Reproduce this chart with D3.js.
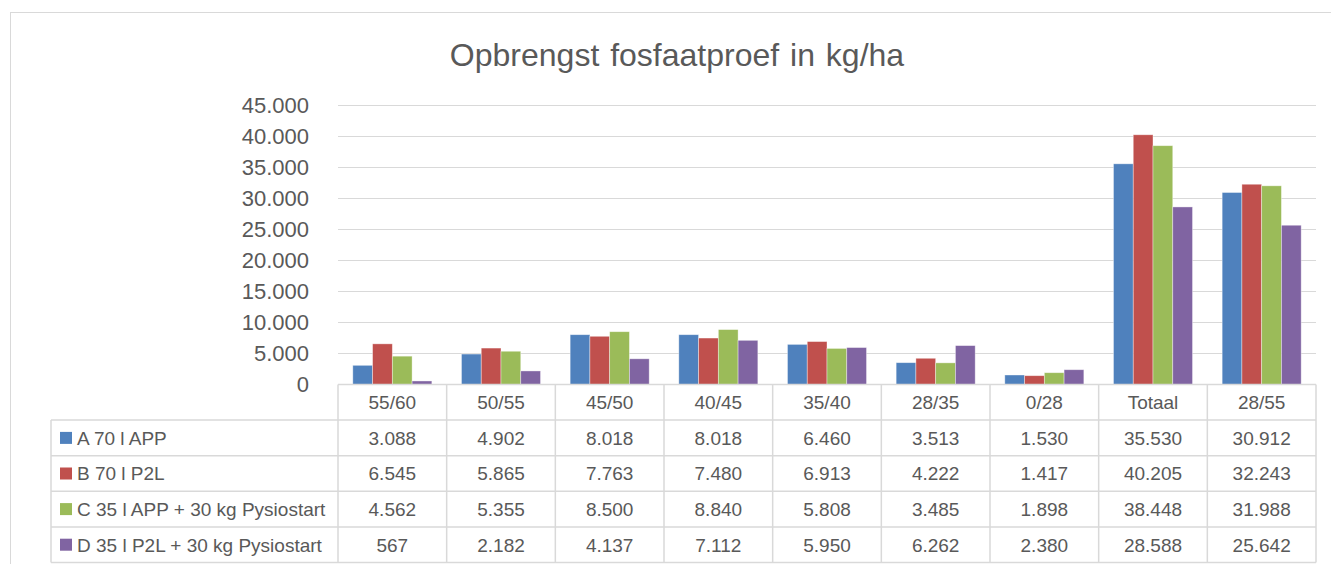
<!DOCTYPE html>
<html>
<head>
<meta charset="utf-8">
<script src="https://cdn.jsdelivr.net/npm/d3@7"></script>
<style>
  body { margin: 0; background: #fff; }
  svg text { font-family: "Liberation Sans", Arial, sans-serif; fill: #595959; }
</style>
</head>
<body>
<div id="app"></div>
<script>
// categories and series
const categories = ["55/60", "50/55", "45/50", "40/45", "35/40", "28/35", "0/28", "Totaal", "28/55"];
const seriesNames = ["A 70 l APP", "B 70 l P2L", "C 35 l APP + 30 kg Pysiostart", "D 35 l P2L + 30 kg Pysiostart"];
const seriesA = [3088, 4902, 8018, 8018, 6460, 3513, 1530, 35530, 30912];
const seriesB = [6545, 5865, 7763, 7480, 6913, 4222, 1417, 40205, 32243];
const seriesC = [4562, 5355, 8500, 8840, 5808, 3485, 1898, 38448, 31988];
const seriesD = [567, 2182, 4137, 7112, 5950, 6262, 2380, 28588, 25642];
const yTicks = [0, 5000, 10000, 15000, 20000, 25000, 30000, 35000, 40000, 45000];
const colors = ["#4f81bd", "#c0504d", "#9bbb59", "#8064a2"];

const allSeries = [seriesA, seriesB, seriesC, seriesD];

const W = 1331, H = 564;
const plot = { left: 338, right: 1316, top: 105, bottom: 384.5 };
const rowH = 35.6;

const nl = d3.formatLocale({ decimal: ",", thousands: ".", grouping: [3], currency: ["€", ""] });
const fmt = nl.format(",d");

const svg = d3.select("#app").append("svg")
    .attr("width", W)
    .attr("height", H);

// chart border
svg.append("rect")
    .attr("x", 10.5).attr("y", 12.5)
    .attr("width", W).attr("height", H)
    .attr("fill", "none")
    .attr("stroke", "#d9d9d9");

// title
svg.append("text")
    .attr("x", 677).attr("y", 66)
    .attr("text-anchor", "middle")
    .style("font-size", "32px")
    .style("word-spacing", "2px")
    .text("Opbrengst fosfaatproef in kg/ha");

const x = d3.scaleBand().domain(categories).range([plot.left, plot.right]).padding(0);
const x1 = d3.scaleBand().domain(d3.range(4)).range([0, x.bandwidth()])
    .paddingInner(0).paddingOuter(0.75);
const y = d3.scaleLinear().domain([0, 45000]).range([plot.bottom, plot.top]);

// gridlines
svg.append("g").selectAll("line")
    .data(yTicks.slice(1))
    .join("line")
    .attr("x1", plot.left).attr("x2", plot.right)
    .attr("y1", d => Math.round(y(d)) + 0.5).attr("y2", d => Math.round(y(d)) + 0.5)
    .attr("stroke", "#d9d9d9")
    .attr("stroke-width", 1);

// y labels
svg.append("g").selectAll("text")
    .data(yTicks)
    .join("text")
    .attr("x", 309)
    .attr("y", d => y(d))
    .attr("dy", "0.36em")
    .attr("text-anchor", "end")
    .style("font-size", "22px")
    .text(d => fmt(d));

// bars
const groups = svg.append("g").selectAll("g")
    .data(categories)
    .join("g")
    .attr("transform", d => `translate(${x(d)},0)`);

groups.selectAll("rect")
    .data((d, i) => allSeries.map((s, k) => ({ k, v: s[i] })))
    .join("rect")
    .attr("x", d => x1(d.k))
    .attr("y", d => y(d.v))
    .attr("width", x1.bandwidth())
    .attr("height", d => y(0) - y(d.v))
    .attr("fill", d => colors[d.k])
    .attr("stroke", "#ffffff")
    .attr("stroke-opacity", 0.5)
    .attr("stroke-width", 0.75);

// data table
const table = svg.append("g")
    .attr("stroke", "#d9d9d9")
    .attr("stroke-width", 1.5)
    .attr("fill", "none");

const rowTop = i => plot.bottom + rowH * i; // i = 0 header
const tableBottom = rowTop(5);
const legendLeft = 51;

// horizontal lines
for (let i = 0; i <= 5; i++) {
    table.append("line")
        .attr("x1", i === 0 ? plot.left : legendLeft)
        .attr("x2", plot.right)
        .attr("y1", rowTop(i)).attr("y2", rowTop(i));
}
// vertical lines
table.append("line")
    .attr("x1", legendLeft).attr("x2", legendLeft)
    .attr("y1", rowTop(1)).attr("y2", tableBottom);
categories.forEach(c => {
    table.append("line")
        .attr("x1", x(c)).attr("x2", x(c))
        .attr("y1", rowTop(0)).attr("y2", tableBottom);
});
table.append("line")
    .attr("x1", plot.right).attr("x2", plot.right)
    .attr("y1", rowTop(0)).attr("y2", tableBottom);

// header row
svg.append("g").selectAll("text")
    .data(categories)
    .join("text")
    .attr("x", d => x(d) + x.bandwidth() / 2)
    .attr("y", rowTop(0) + rowH / 2)
    .attr("dy", "0.36em")
    .attr("text-anchor", "middle")
    .style("font-size", "19px")
    .text(d => d);

// series rows
allSeries.forEach((s, k) => {
    const cy = rowTop(k + 1) + rowH / 2;
    svg.append("rect")
        .attr("x", 60).attr("y", cy - 6)
        .attr("width", 12).attr("height", 12)
        .attr("fill", colors[k]);
    svg.append("text")
        .attr("x", 77).attr("y", cy)
        .attr("dy", "0.36em")
        .style("font-size", "19px")
        .text(seriesNames[k]);
    svg.append("g").selectAll("text")
        .data(s)
        .join("text")
        .attr("x", (d, i) => x(categories[i]) + x.bandwidth() / 2)
        .attr("y", cy)
        .attr("dy", "0.36em")
        .attr("text-anchor", "middle")
        .style("font-size", "19px")
        .text(d => fmt(d));
});
</script>
</body>
</html>
